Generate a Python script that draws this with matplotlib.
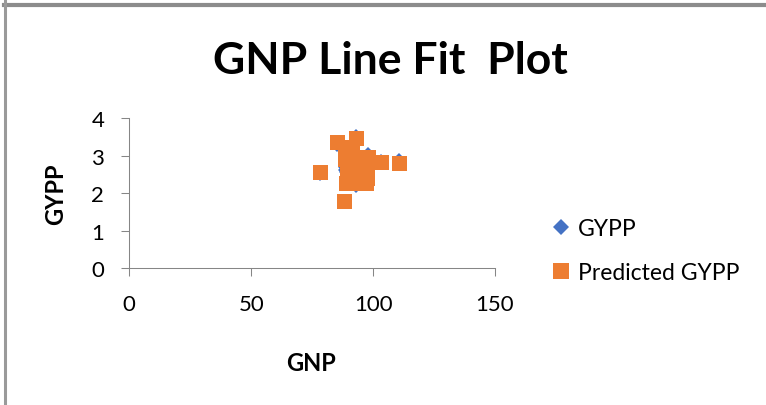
import numpy as np
import matplotlib
matplotlib.use("Agg")
import matplotlib.pyplot as plt
from matplotlib.lines import Line2D

plt.rcParams['font.family'] = ['Lato', 'DejaVu Sans']

# GNP (x), observed GYPP and predicted GYPP from the regression
gnp = [78.2, 88.1, 110.8, 103.2, 93.0, 85.2, 98.1, 92.8,
       88.6, 88.3, 89.1, 88.9, 91.4, 91.9, 91.2,
       94.3, 94.8, 94.1, 95.2, 97.3, 97.7, 96.9]
gypp = [2.52, 1.75, 2.89, 2.85, 3.53, 3.28, 3.03, 2.20,
        2.70, 2.62, 2.48, 2.55, 2.75, 2.60, 2.45,
        2.80, 2.66, 2.50, 2.58, 2.72, 2.45, 2.62]
pred_gypp = [2.57, 1.79, 2.79, 2.83, 3.47, 3.36, 2.95, 2.28,
             3.22, 2.90, 2.58, 2.28, 3.08, 2.62, 2.30,
             2.95, 2.70, 2.40, 2.28, 2.68, 2.40, 2.28]

x_ticks = [0, 50, 100, 150]
y_ticks = [0, 1, 2, 3, 4]

blue = "#4472c4"
orange = "#ed7d31"
axis_grey = "#868686"

fig = plt.figure(figsize=(7.66, 4.06), dpi=100)
ax = fig.add_axes([0.1688, 0.3374, 0.4774, 0.3695])

ax.plot(gnp, gypp, linestyle="none", marker="D", markersize=7.6,
        color=blue, markeredgewidth=0, label="GYPP")
ax.plot(gnp, pred_gypp, linestyle="none", marker="s", markersize=10.8,
        color=orange, markeredgewidth=0, label="Predicted GYPP")

ax.set_xlim(0, 150)
ax.set_ylim(0, 4)
ax.set_xticks(x_ticks)
ax.set_yticks(y_ticks)

for side in ["top", "right"]:
    ax.spines[side].set_visible(False)
for side in ["left", "bottom"]:
    ax.spines[side].set_color(axis_grey)
    ax.spines[side].set_linewidth(0.75)

ax.tick_params(axis="both", colors=axis_grey, length=6, width=0.75,
               labelsize=16, labelcolor="black")
ax.tick_params(axis="x", pad=13)
ax.tick_params(axis="y", pad=12)

fig.text(0.509, 0.85, "GNP Line Fit  Plot", ha="center", va="center",
         fontsize=32, fontweight="bold")
fig.text(0.406, 0.104, "GNP", ha="center", va="center",
         fontsize=17, fontweight="bold")
fig.text(0.072, 0.522, "GYPP", ha="center", va="center",
         fontsize=17, fontweight="bold", rotation=90)

fig.legend(loc="center left", bbox_to_anchor=(0.71, 0.38), frameon=False,
           fontsize=16.5, handlelength=0.7, handletextpad=0.4,
           labelspacing=1.0, borderaxespad=0, markerscale=1.1)

# frame lines from the surrounding page
fig.add_artist(Line2D([3.5 / 766, 1], [1 - 6 / 406, 1 - 6 / 406],
                      transform=fig.transFigure, color="#8c8c8c", linewidth=3))
fig.add_artist(Line2D([4.5 / 766, 4.5 / 766], [0, 1],
                      transform=fig.transFigure, color="#9a9a9a", linewidth=2.2))

fig.savefig("out.png", dpi=100)
